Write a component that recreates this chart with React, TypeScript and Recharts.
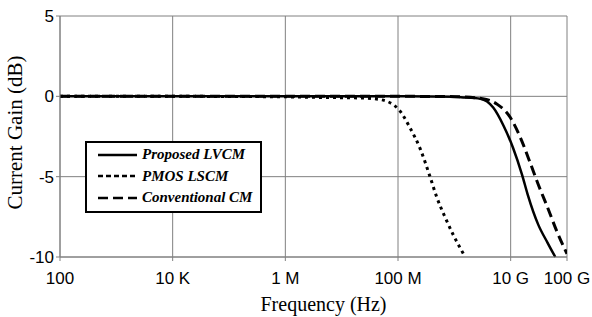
import {
  LineChart,
  Line,
  XAxis,
  YAxis,
  CartesianGrid,
  Legend,
} from 'recharts';

// x values are in Hz, y values in dB
const TICKS = [1e2, 1e4, 1e6, 1e8, 1e10, 1e11];
const TICK_LABELS = ['100', '10 K', '1 M', '100 M', '10 G', '100 G'];
const Y_TICKS = [-10, -5, 0, 5];

const PROPOSED_FREQ = [1e2, 1e4, 1e6, 1e8, 1e9, 1.3e9, 2.9e9, 4.9e9, 7.4e9, 1.1e10, 1.6e10, 2.0e10, 3.1e10, 4.5e10, 6.2e10];
const PROPOSED_GAIN = [0, 0, 0, 0, -0.02, -0.05, -0.15, -0.7, -1.8, -3.2, -4.9, -6.1, -8.0, -9.1, -10];

const PMOS_FREQ = [1e2, 1e4, 1e6, 4.2e6, 2.1e7, 4.8e7, 1.05e8, 1.6e8, 2.5e8, 3.7e8, 4.9e8, 6.8e8, 9.5e8, 1.45e9];
const PMOS_GAIN = [0, 0, -0.03, -0.07, -0.1, -0.2, -0.85, -1.9, -3.3, -5.0, -6.3, -7.5, -8.6, -9.8];

const CONV_FREQ = [1e2, 1e4, 1e6, 1e8, 1e9, 3.2e9, 5.8e9, 9.8e9, 1.5e10, 2.2e10, 3.1e10, 4.5e10, 6.6e10, 1e11];
const CONV_GAIN = [0, 0, 0, 0, -0.02, -0.15, -0.5, -1.3, -2.6, -4.1, -5.5, -6.9, -8.4, -9.8];

const zip = (f: number[], g: number[]) => f.map((freq, i) => ({ freq, gain: g[i] }));

const SERIES = [
  { name: 'Proposed LVCM', data: zip(PROPOSED_FREQ, PROPOSED_GAIN), dash: undefined, width: 2.5, legendDash: undefined },
  { name: 'PMOS LSCM', data: zip(PMOS_FREQ, PMOS_GAIN), dash: '3 4', width: 3, legendDash: '5 3' },
  { name: 'Conventional CM', data: zip(CONV_FREQ, CONV_GAIN), dash: '10 5', width: 3, legendDash: '10 5' },
];

const GRID = '#808080';
const SANS = 'Liberation Sans, Arial, Helvetica';
const SERIF = 'Liberation Serif, Times New Roman, DejaVu Serif, serif';

const tickFmt = (v: number) => TICK_LABELS[TICKS.indexOf(v)] ?? '';

function LegendBox() {
  return (
    <div
      style={{
        boxSizing: 'border-box',
        width: 177,
        height: 72,
        border: '2px solid #000',
        background: '#fff',
        paddingTop: 1,
      }}
    >
      {SERIES.map((s) => (
        <div key={s.name} style={{ display: 'flex', alignItems: 'center', height: 21.5 }}>
          <svg width={50} height={10} style={{ flex: 'none' }}>
            <line x1={11} y1={5} x2={50} y2={5} stroke="#000" strokeWidth={2.5} strokeDasharray={s.legendDash} />
          </svg>
          <span
            style={{
              marginLeft: 5,
              fontFamily: SERIF,
              fontWeight: 'bold',
              fontStyle: 'italic',
              fontSize: 15,
              color: '#000',
              whiteSpace: 'nowrap',
            }}
          >
            {s.name}
          </span>
        </div>
      ))}
    </div>
  );
}

export default function App() {
  return (
    <div style={{ position: 'absolute', left: 0, top: 0, background: '#fff' }}>
      <LineChart width={592} height={317} margin={{ top: 16, right: 25, left: 0, bottom: 0 }}>
        <CartesianGrid stroke={GRID} strokeWidth={1} />
        <XAxis
          dataKey="freq"
          type="number"
          scale="log"
          domain={[1e2, 1e11]}
          ticks={TICKS}
          interval={0}
          allowDataOverflow
          tickFormatter={tickFmt}
          height={60}
          stroke={GRID}
          tickSize={4}
          tickMargin={11}
          tick={{ fill: '#000', fontSize: 17, fontFamily: SANS }}
          label={{
            content: ({ viewBox }: any) => (
              <text
                x={viewBox.x + viewBox.width / 2 + 10}
                y={viewBox.y + 54}
                textAnchor="middle"
                style={{ fontFamily: SERIF, fontSize: 20 }}
                fill="#000"
              >
                Frequency (Hz)
              </text>
            ),
          }}
        />
        <YAxis
          type="number"
          domain={[-10, 5]}
          ticks={Y_TICKS}
          interval={0}
          width={60}
          stroke={GRID}
          tickSize={4}
          tickMargin={2}
          tick={{ fill: '#000', fontSize: 17, fontFamily: SANS }}
          label={{
            content: ({ viewBox }: any) => {
              const cx = viewBox.x + 22;
              const cy = viewBox.y + viewBox.height / 2 - 4;
              return (
                <text
                  x={cx}
                  y={cy}
                  transform={`rotate(-90 ${cx} ${cy})`}
                  textAnchor="middle"
                  style={{ fontFamily: SERIF, fontSize: 21 }}
                  fill="#000"
                >
                  Current Gain (dB)
                </text>
              );
            },
          }}
        />
        <Legend
          layout="vertical"
          align="center"
          verticalAlign="middle"
          content={() => <LegendBox />}
          wrapperStyle={{ left: 85, top: 141, width: 177, height: 72 }}
        />
        {SERIES.map((s) => (
          <Line
            key={s.name}
            name={s.name}
            data={s.data}
            dataKey="gain"
            type="monotone"
            stroke="#000"
            strokeWidth={s.width}
            strokeDasharray={s.dash}
            dot={false}
            activeDot={false}
            isAnimationActive={false}
          />
        ))}
      </LineChart>
    </div>
  );
}
